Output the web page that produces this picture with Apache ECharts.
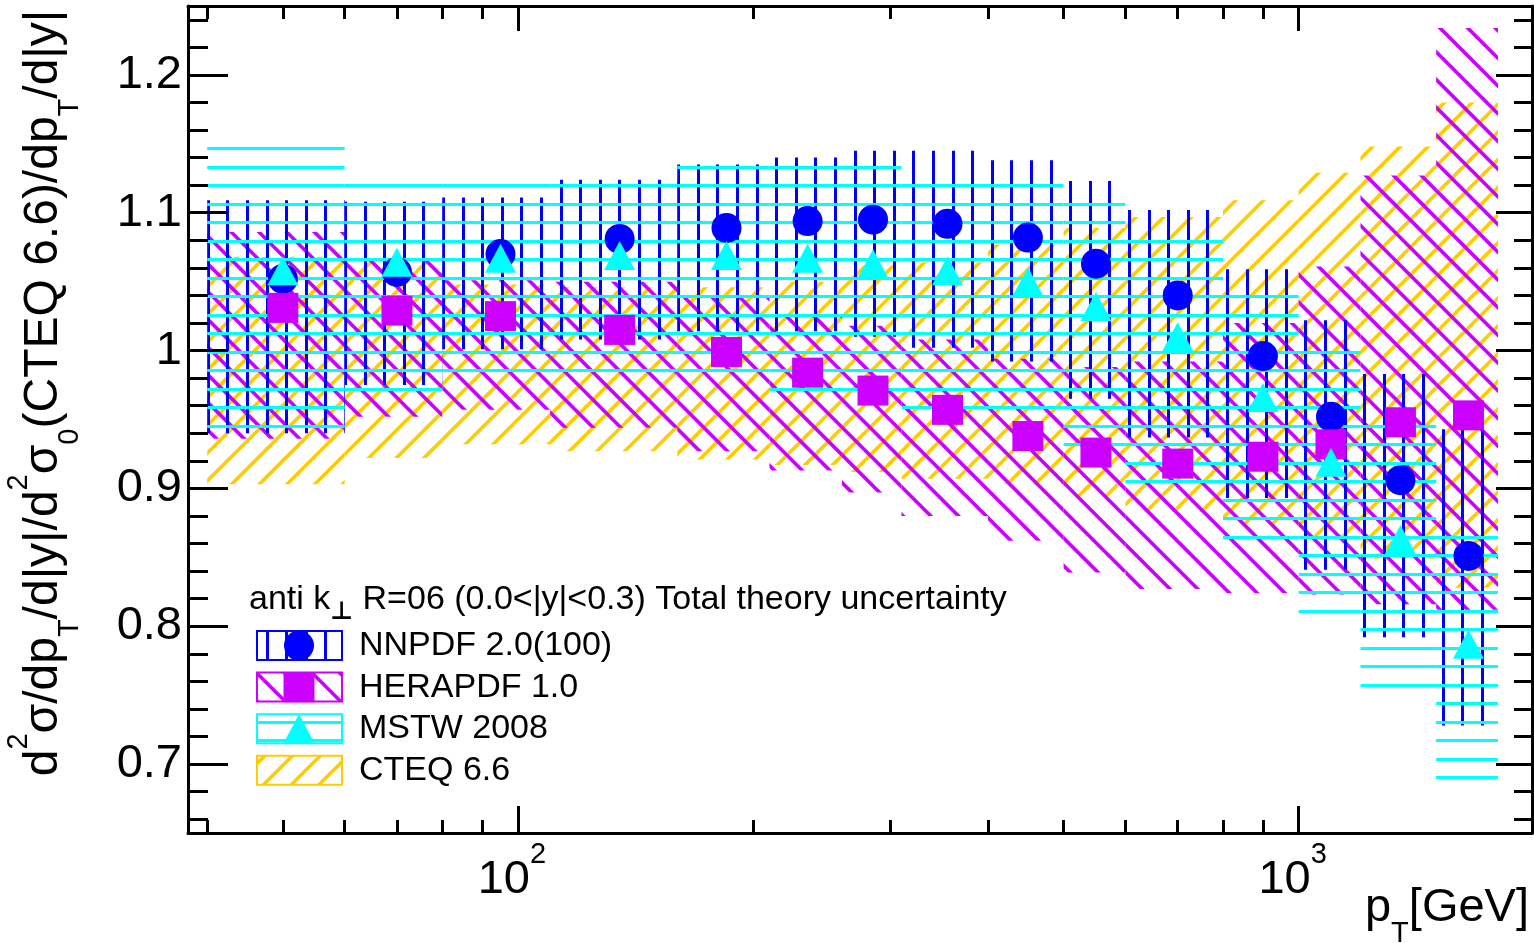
<!DOCTYPE html>
<html>
<head>
<meta charset="utf-8">
<script src="https://cdn.jsdelivr.net/npm/echarts@6/dist/echarts.min.js"></script>
<style>
html,body{margin:0;padding:0;background:#ffffff;}
#chart{width:1534px;height:943px;}
</style>
</head>
<body>
<div id="chart"></div>
<script>
// ---------------- data ----------------
const binLow    = [40, 60, 80, 110, 160, 210, 260, 310, 400, 500, 600, 800, 1000, 1200, 1500];
const binHigh   = [60, 80, 110, 160, 210, 260, 310, 400, 500, 600, 800, 1000, 1200, 1500, 1800];
const binCenter = [50, 70, 95, 135, 185, 235, 285, 355, 450, 550, 700, 900, 1100, 1350, 1650];

const nnpdfCentral = [1.052, 1.057, 1.070, 1.081, 1.089, 1.094, 1.095, 1.092, 1.082, 1.063, 1.040, 0.996, 0.952, 0.906, 0.851];
const nnpdfUp      = [1.109, 1.108, 1.111, 1.124, 1.135, 1.140, 1.145, 1.145, 1.138, 1.123, 1.102, 1.059, 1.022, 0.983, 0.943];
const nnpdfDown    = [0.940, 0.975, 1.001, 1.008, 1.014, 1.014, 1.010, 1.002, 0.992, 0.965, 0.937, 0.893, 0.841, 0.792, 0.728];

const heraCentral  = [1.031, 1.029, 1.025, 1.015, 0.999, 0.984, 0.971, 0.957, 0.938, 0.926, 0.918, 0.923, 0.932, 0.948, 0.953];
const heraUp       = [1.086, 1.065, 1.051, 1.050, 1.039, 1.025, 1.018, 1.008, 0.994, 0.988, 0.992, 1.020, 1.061, 1.127, 1.234];
const heraDown     = [0.936, 0.952, 0.957, 0.944, 0.927, 0.913, 0.897, 0.880, 0.862, 0.839, 0.827, 0.824, 0.823, 0.816, 0.812];

const mstwCentral  = [1.058, 1.064, 1.067, 1.069, 1.069, 1.067, 1.063, 1.058, 1.050, 1.032, 1.010, 0.966, 0.919, 0.863, 0.787];
const mstwUp       = [1.153, 1.126, 1.126, 1.126, 1.140, 1.140, 1.140, 1.127, 1.127, 1.113, 1.086, 1.046, 1.006, 0.952, 0.872];
const mstwDown     = [0.939, 0.966, 0.979, 0.979, 0.979, 0.966, 0.966, 0.952, 0.952, 0.925, 0.899, 0.859, 0.804, 0.751, 0.684];

const cteqUp       = [1.068, 1.064, 1.048, 1.046, 1.046, 1.050, 1.062, 1.064, 1.077, 1.089, 1.097, 1.109, 1.129, 1.148, 1.180];
const cteqDown     = [0.903, 0.922, 0.932, 0.927, 0.921, 0.917, 0.912, 0.907, 0.903, 0.894, 0.883, 0.874, 0.863, 0.849, 0.828];

const xMajorTicks = [100, 1000];
const xMinorTicks = [40, 50, 60, 70, 80, 90, 200, 300, 400, 500, 600, 700, 800, 900];
const yMajorTicks = [0.7, 0.8, 0.9, 1, 1.1, 1.2];
const yMinorTicks = [0.66, 0.68, 0.72, 0.74, 0.76, 0.78, 0.82, 0.84, 0.86, 0.88, 0.92, 0.94, 0.96, 0.98,
                     1.02, 1.04, 1.06, 1.08, 1.12, 1.14, 1.16, 1.18, 1.22, 1.24];

const seriesNames = ['NNPDF 2.0(100)', 'HERAPDF 1.0', 'MSTW 2008', 'CTEQ 6.6'];
const headerText = 'anti k{perp|⊥} R=06 (0.0<|y|<0.3) Total theory uncertainty';

// ---------------- styles ----------------
const FONT = '"Liberation Sans", Arial, "DejaVu Sans", sans-serif';
const cNN = '#0000ff', cHERA = '#cc00ff', cMSTW = '#00ffff', cCTEQ = '#ffcc00';

function hatch(kind, color, width, period, phase, n) {
  const T = Math.round(period * n);
  const p = T / n;
  const cv = document.createElement('canvas');
  cv.width = T; cv.height = T;
  const ctx = cv.getContext('2d');
  ctx.strokeStyle = color; ctx.lineWidth = width; ctx.lineCap = 'butt';
  ctx.beginPath();
  const ph = ((phase % p) + p) % p;
  if (kind === 'v') {
    for (let i = -1; i <= n; i++) { const x = Math.round(ph + i * p) + 0.5; ctx.moveTo(x, -2); ctx.lineTo(x, T + 2); }
  } else if (kind === 'h') {
    for (let i = -1; i <= n; i++) { const y = Math.round(ph + i * p) + 0.5; ctx.moveTo(-2, y); ctx.lineTo(T + 2, y); }
  } else if (kind === 'f') { // "/" : x + y = c
    for (let i = -2; i <= 2 * n + 2; i++) { const c = ph + i * p; ctx.moveTo(c - T - 10, T + 10); ctx.lineTo(c + 10, -10); }
  } else { // "\" : y - x = c
    for (let i = -n - 2; i <= n + 2; i++) { const c = ph + i * p; ctx.moveTo(-10, c - 10); ctx.lineTo(T + 10, T + 10 + c); }
  }
  ctx.stroke();
  return { image: cv, repeat: 'repeat' };
}

const patNN   = hatch('v', cNN,   3, 19.6, 11.7, 10);
const patMSTW = hatch('h', cMSTW, 3, 18.5, 0.3, 10);
const patHERA = hatch('b', cHERA, 3.6, 27.7, 0.7, 10);
const patCTEQ = hatch('f', cCTEQ, 3.6, 27.7, 23.4, 10);

function bandSeries(name, lo, hi, fill, z) {
  return {
    type: 'custom', name: name, z: z, clip: true, silent: true,
    xAxisIndex: 0, yAxisIndex: 0,
    data: binLow.map((l, i) => [l, binHigh[i], lo[i], hi[i]]),
    encode: { x: [0, 1], y: [2, 3] },
    renderItem: function (params, api) {
      const a = api.coord([api.value(0), api.value(3)]);
      const b = api.coord([api.value(1), api.value(2)]);
      return { type: 'rect', shape: { x: a[0], y: a[1], width: b[0] - a[0], height: b[1] - a[1] },
               style: { fill: fill, stroke: null } };
    }
  };
}

function markerSeries(name, values, symbol, size, color, z) {
  return {
    type: 'scatter', name: name, z: z, silent: true,
    xAxisIndex: 0, yAxisIndex: 0,
    data: binCenter.map((x, i) => [x, values[i]]),
    symbol: symbol, symbolSize: size,
    itemStyle: { color: color, opacity: 1 }
  };
}

const tickStyle = { color: '#000', width: 3 };
const xBase = { type: 'log', logBase: 10, min: 37.8, max: 1990, splitLine: { show: false }, z: 10 };
const yBase = { type: 'value', min: 0.65, max: 1.25, splitLine: { show: false }, z: 10 };

const supRich = {
  sup: { fontSize: 29, lineHeight: 44, verticalAlign: 'top', fontFamily: FONT, color: '#000' },
  sub: { fontSize: 29, lineHeight: 28, verticalAlign: 'bottom', fontFamily: FONT, color: '#000' }
};

const option = {
  animation: false,
  backgroundColor: '#ffffff',
  grid: { left: 188, right: 2, top: 6, bottom: 110, show: false },
  xAxis: [
    Object.assign({}, xBase, { position: 'bottom',
      axisLine: { show: true, onZero: false, lineStyle: tickStyle },
      axisTick: { show: true, inside: true, length: 27, lineStyle: tickStyle, customValues: xMajorTicks },
      axisLabel: { show: true, customValues: xMajorTicks, margin: 7, fontSize: 47, lineHeight: 80, fontFamily: FONT, color: '#000',
        padding: [0, 12, 0, 0],
        formatter: function (v) { return '10{sup|' + Math.round(Math.log10(v)) + '}'; }, rich: supRich } }),
    Object.assign({}, xBase, { position: 'bottom',
      axisLine: { show: false, onZero: false },
      axisTick: { show: true, inside: true, length: 13, lineStyle: tickStyle, customValues: xMinorTicks },
      axisLabel: { show: false } }),
    Object.assign({}, xBase, { position: 'top',
      axisLine: { show: true, onZero: false, lineStyle: tickStyle },
      axisTick: { show: true, inside: true, length: 25, lineStyle: tickStyle, customValues: xMajorTicks },
      axisLabel: { show: false } }),
    Object.assign({}, xBase, { position: 'top',
      axisLine: { show: false, onZero: false },
      axisTick: { show: true, inside: true, length: 13, lineStyle: tickStyle, customValues: xMinorTicks },
      axisLabel: { show: false } })
  ],
  yAxis: [
    Object.assign({}, yBase, { position: 'left',
      axisLine: { show: true, onZero: false, lineStyle: tickStyle },
      axisTick: { show: true, inside: true, length: 40, lineStyle: tickStyle, customValues: yMajorTicks },
      axisLabel: { show: true, customValues: yMajorTicks, margin: 6, fontSize: 47, fontFamily: FONT, color: '#000' } }),
    Object.assign({}, yBase, { position: 'left',
      axisLine: { show: false, onZero: false },
      axisTick: { show: true, inside: true, length: 20, lineStyle: tickStyle, customValues: yMinorTicks },
      axisLabel: { show: false } }),
    Object.assign({}, yBase, { position: 'right',
      axisLine: { show: true, onZero: false, lineStyle: tickStyle },
      axisTick: { show: true, inside: true, length: 36, lineStyle: tickStyle, customValues: yMajorTicks },
      axisLabel: { show: false } }),
    Object.assign({}, yBase, { position: 'right',
      axisLine: { show: false, onZero: false },
      axisTick: { show: true, inside: true, length: 18, lineStyle: tickStyle, customValues: yMinorTicks },
      axisLabel: { show: false } })
  ],
  series: [
    bandSeries(seriesNames[3] + ' band', cteqDown, cteqUp, patCTEQ, 1),
    bandSeries(seriesNames[1] + ' band', heraDown, heraUp, patHERA, 2),
    bandSeries(seriesNames[0] + ' band', nnpdfDown, nnpdfUp, patNN, 3),
    bandSeries(seriesNames[2] + ' band', mstwDown, mstwUp, patMSTW, 4),
    markerSeries(seriesNames[0], nnpdfCentral, 'circle', 30, cNN, 5),
    markerSeries(seriesNames[1], heraCentral, 'rect', [31, 30], cHERA, 6),
    markerSeries(seriesNames[2], mstwCentral, 'triangle', [31, 29], cMSTW, 7)
  ],
  graphic: []
};

// axis titles
option.graphic.push({
  type: 'text', x: 44, y: 393, rotation: Math.PI / 2, z: 20,
  style: {
    text: 'd{sup|2}σ/dp{sub|T}/d|y|/d{sup|2}σ{sub|0}(CTEQ 6.6)/dp{sub|T}/d|y|',
    fontSize: 48, fontFamily: FONT, fill: '#000', lineHeight: 80,
    align: 'center', verticalAlign: 'middle', rich: supRich
  }
});
option.graphic.push({
  type: 'text', x: 1529, y: 908, z: 20,
  style: {
    text: 'p{sub|T}[GeV]', fontSize: 47, fontFamily: FONT, fill: '#000', lineHeight: 80,
    align: 'right', verticalAlign: 'middle', rich: supRich
  }
});

// legend
option.graphic.push({
  type: 'text', x: 249, y: 600, z: 20,
  style: {
    text: headerText, fontSize: 34, fontFamily: FONT, fill: '#000', lineHeight: 50,
    align: 'left', verticalAlign: 'middle',
    rich: { perp: { fontSize: 25, lineHeight: 24, verticalAlign: 'bottom', fontWeight: 'bold', fontFamily: '"DejaVu Sans", sans-serif', color: '#000' } }
  }
});
const legendPats = [patNN, patHERA, patMSTW, patCTEQ];
const legendCols = [cNN, cHERA, cMSTW, cCTEQ];
for (let i = 0; i < 4; i++) {
  const top = 631 + i * 41.6;
  const cy = top + 14.6;
  option.graphic.push({ type: 'rect', z: 20, shape: { x: 257, y: top, width: 85, height: 29 },
    style: { fill: legendPats[i], stroke: legendCols[i], lineWidth: 2 } });
  if (i === 0) option.graphic.push({ type: 'circle', z: 21, shape: { cx: 299, cy: cy, r: 15 }, style: { fill: cNN } });
  if (i === 1) option.graphic.push({ type: 'rect', z: 21, shape: { x: 283.5, y: cy - 15, width: 31, height: 30 }, style: { fill: cHERA } });
  if (i === 2) option.graphic.push({ type: 'polygon', z: 21, shape: { points: [[283.5, cy + 14.5], [314.5, cy + 14.5], [299, cy - 14.5]] }, style: { fill: cMSTW } });
  option.graphic.push({ type: 'text', z: 20, x: 359, y: cy, style: {
    text: seriesNames[i], fontSize: 34, fontFamily: FONT, fill: '#000', align: 'left', verticalAlign: 'middle' } });
}

const chart = echarts.init(document.getElementById('chart'), null, { renderer: 'canvas' });
chart.setOption(option);
</script>
</body>
</html>
